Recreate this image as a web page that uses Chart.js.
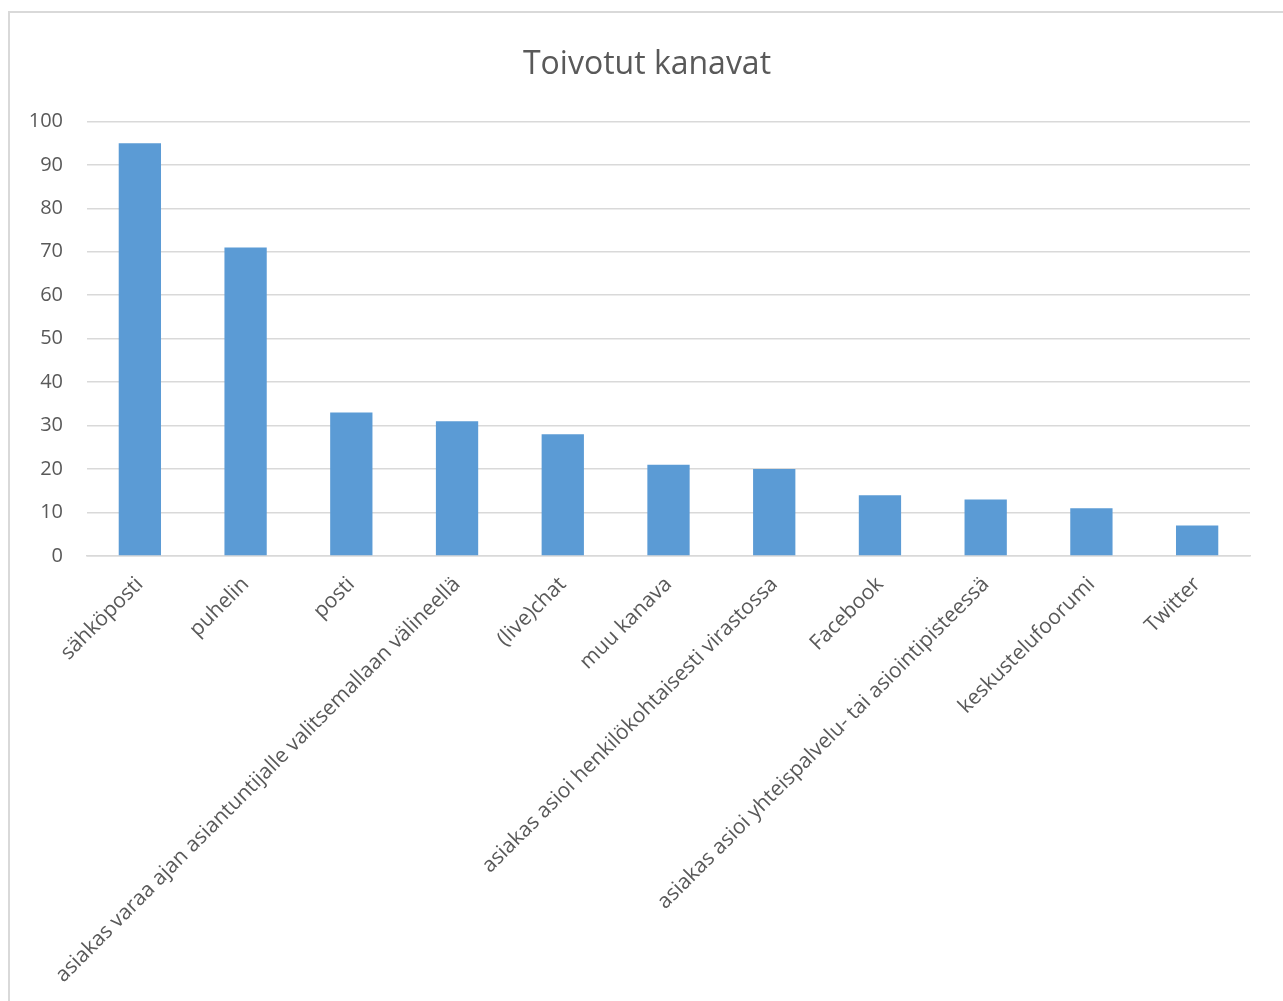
<!DOCTYPE html>
<html>
<head>
<meta charset="utf-8">
<script src="https://cdn.jsdelivr.net/npm/chart.js@4"></script>
<style>
  html, body { margin: 0; padding: 0; background: #fff; overflow: hidden; }
  #frame {
    position: absolute; left: 8px; top: 11px; width: 1300px; height: 1010px;
    border: 2px solid #d9d9d9; box-sizing: border-box;
  }
  #chart { position: absolute; left: 0; top: 0; }
</style>
</head>
<body>
<div id="frame"></div>
<canvas id="chart" width="1283" height="1001"></canvas>
<script>
const categories = [
  'sähköposti',
  'puhelin',
  'posti',
  'asiakas varaa ajan asiantuntijalle valitsemallaan välineellä',
  '(live)chat',
  'muu kanava',
  'asiakas asioi henkilökohtaisesti virastossa',
  'Facebook',
  'asiakas asioi yhteispalvelu- tai asiointipisteessä',
  'keskustelufoorumi',
  'Twitter'
];
const values = [95, 71, 33, 31, 28, 21, 20, 14, 13, 11, 7];
const yTicks = [0, 10, 20, 30, 40, 50, 60, 70, 80, 90, 100];

const textColor = '#595959';
const gridColor = '#d9d9d9';
const fontFamily = '"Open Sans", Calibri, sans-serif';

// the y axis box is kept narrow so the title centres like the original;
// widen its label clip area after layout so "100" is not cut off
const widenYLabels = {
  id: 'widenYLabels',
  afterLayout(chart) {
    chart.scales.y.left = 0;
  }
};

new Chart(document.getElementById('chart'), {
  type: 'bar',
  data: {
    labels: categories,
    datasets: [{
      label: 'Toivotut kanavat',
      data: values,
      backgroundColor: '#5b9bd5',
      borderWidth: 0,
      categoryPercentage: 0.4,
      barPercentage: 1.0
    }]
  },
  plugins: [widenYLabels],
  options: {
    responsive: false,
    animation: false,
    layout: { padding: { left: 44, right: 33, top: 0, bottom: 0 } },
    plugins: {
      legend: { display: false },
      tooltip: { enabled: false },
      title: {
        display: true,
        text: 'Toivotut kanavat',
        color: textColor,
        font: { family: fontFamily, size: 32, weight: 'normal', lineHeight: 1.2 },
        padding: { top: 46, bottom: 37 }
      }
    },
    scales: {
      x: {
        grid: { display: false, drawTicks: false },
        border: { display: true, color: gridColor, width: 1.5 },
        ticks: {
          color: textColor,
          font: { family: fontFamily, size: 21 },
          minRotation: 45,
          maxRotation: 45,
          autoSkip: false,
          padding: 16
        },
        afterFit(scale) {
          scale.height = 445;
          scale.paddingLeft = 0;
          scale.paddingRight = 0;
        }
      },
      y: {
        min: 0,
        max: 100,
        afterBuildTicks(scale) {
          scale.ticks = yTicks.map(v => ({ value: v }));
        },
        grid: { color: gridColor, lineWidth: 1.5, drawTicks: false },
        border: { display: false },
        ticks: {
          color: textColor,
          font: { family: fontFamily, size: 20 },
          padding: 24
        },
        afterFit(scale) {
          scale.width = 43;
          scale.paddingTop = 0;
          scale.paddingBottom = 0;
        }
      }
    }
  }
});
</script>
</body>
</html>
